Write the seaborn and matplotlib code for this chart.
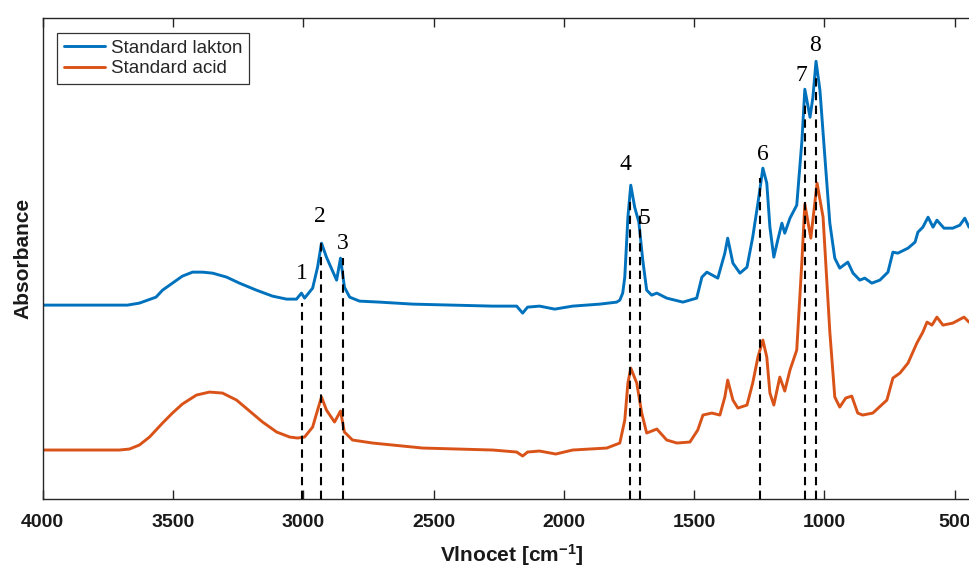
import numpy as np
import pandas as pd
import matplotlib
matplotlib.use("Agg")
import matplotlib.pyplot as plt
import seaborn as sns

# ---------------- data ----------------
lakton_wn = [4000, 3800, 3675, 3629, 3565, 3540, 3502, 3464, 3425, 3387, 3348, 3294,
             3245, 3180, 3118, 3064, 3026,
             3007, 2995, 2964, 2945, 2930, 2911, 2872, 2857, 2842, 2822, 2784, 2707,
             2580, 2427, 2273, 2181, 2158, 2139, 2093, 2035, 1966, 1862, 1797, 1785,
             1774, 1766, 1754, 1743, 1728, 1712, 1697, 1682, 1663, 1643, 1605, 1543,
             1490, 1470, 1451, 1409, 1382, 1371, 1351, 1324, 1297, 1275, 1255, 1236,
             1221, 1209, 1194, 1179, 1163, 1152, 1132, 1106, 1086, 1075, 1055, 1044,
             1032, 1017, 998, 979, 960, 941, 910, 890, 864, 845, 818, 787,
             756, 737, 718, 679, 652, 641, 622, 602, 583, 568, 541, 507,
             480, 461, 445, 400]
lakton_abs = [1.94, 1.94, 1.94, 1.96, 2.02, 2.09, 2.16, 2.23, 2.27, 2.27, 2.26, 2.22,
              2.16, 2.09, 2.03, 2.00, 2.00,
              2.06, 2.01, 2.11, 2.32, 2.56, 2.42, 2.19, 2.41, 2.12, 2.02, 1.98, 1.97,
              1.95, 1.94, 1.93, 1.93, 1.86, 1.92, 1.93, 1.90, 1.93, 1.95, 1.97, 1.99,
              2.06, 2.22, 2.82, 3.14, 2.92, 2.77, 2.39, 2.09, 2.04, 2.06, 2.01, 1.97,
              2.01, 2.22, 2.27, 2.21, 2.46, 2.61, 2.36, 2.26, 2.32, 2.62, 2.96, 3.31,
              3.16, 2.72, 2.42, 2.59, 2.76, 2.66, 2.81, 2.94, 3.59, 4.10, 3.82, 4.02,
              4.38, 4.09, 3.42, 2.76, 2.41, 2.31, 2.37, 2.26, 2.19, 2.21, 2.16, 2.19,
              2.27, 2.47, 2.46, 2.51, 2.57, 2.67, 2.72, 2.82, 2.72, 2.79, 2.71, 2.71,
              2.74, 2.81, 2.72, 2.73]

acid_wn = [4000, 3706, 3667, 3629, 3590, 3540, 3502, 3464, 3410, 3360, 3310, 3256,
           3206, 3156, 3102, 3052, 3022, 2995,
           2964, 2945, 2930, 2911, 2880, 2857, 2842, 2811, 2734, 2542, 2273, 2181,
           2158, 2139, 2093, 2031, 1966, 1835, 1785, 1766, 1754, 1743, 1720, 1701,
           1682, 1643, 1605, 1566, 1516, 1486, 1466, 1432, 1401, 1382, 1371, 1351,
           1332, 1297, 1275, 1255, 1236, 1221, 1209, 1194, 1171, 1152, 1132, 1106,
           1086, 1075, 1052, 1028, 1005, 979, 960, 941, 918, 895, 872, 853,
           814, 760, 737, 710, 679, 645, 622, 606, 587, 568, 545, 507,
           464, 445, 400]
acid_abs = [0.49, 0.49, 0.50, 0.54, 0.62, 0.76, 0.86, 0.95, 1.04, 1.07, 1.06, 0.99,
            0.88, 0.77, 0.67, 0.62, 0.61, 0.62,
            0.72, 0.89, 1.02, 0.89, 0.77, 0.88, 0.67, 0.59, 0.56, 0.51, 0.49, 0.47,
            0.43, 0.47, 0.48, 0.45, 0.49, 0.51, 0.56, 0.79, 1.16, 1.31, 1.16, 0.86,
            0.66, 0.70, 0.59, 0.56, 0.57, 0.69, 0.84, 0.86, 0.84, 1.02, 1.19, 0.99,
            0.91, 0.94, 1.16, 1.42, 1.59, 1.42, 1.06, 0.94, 1.22, 1.08, 1.29, 1.49,
            2.39, 2.95, 2.61, 3.16, 2.82, 1.67, 1.02, 0.92, 1.01, 1.03, 0.86, 0.84,
            0.86, 0.99, 1.21, 1.26, 1.36, 1.56, 1.67, 1.77, 1.74, 1.82, 1.74, 1.76,
            1.82, 1.77, 1.77]

series_names = ["Standard lakton", "Standard acid"]
series_colors = ["#0072BD", "#D95319"]

peak_labels = ["1", "2", "3", "4", "5", "6", "7", "8"]
peak_wn = [3003, 2931, 2846, 1747, 1708, 1248, 1075, 1032]
peak_top = [1.96, 2.56, 2.41, 3.01, 2.87, 3.21, 3.96, 4.26]
label_wn = [3005, 2938, 2849, 1762, 1692, 1236, 1087, 1037]
label_abs = [2.26, 2.83, 2.56, 3.35, 2.81, 3.45, 4.24, 4.54]

x_ticks = [4000, 3500, 3000, 2500, 2000, 1500, 1000, 500]

# ---------------- figure ----------------
sns.set_style("white")
plt.rcParams["font.family"] = ["Liberation Sans", "DejaVu Sans"]
plt.rcParams["mathtext.fontset"] = "custom"
plt.rcParams["mathtext.rm"] = "Liberation Sans:bold"
plt.rcParams["mathtext.default"] = "rm"

fig = plt.figure(figsize=(9.69, 5.68), dpi=100)
W, H = 969, 568
left_px, right_px, top_px, bot_px = 42.7, 980.7, 18.3, 499
ax = fig.add_axes([left_px / W, 1 - bot_px / H, (right_px - left_px) / W,
                   (bot_px - top_px) / H])

df = pd.concat([
    pd.DataFrame({"wn": lakton_wn, "abs": lakton_abs, "sample": series_names[0]}),
    pd.DataFrame({"wn": acid_wn, "abs": acid_abs, "sample": series_names[1]}),
])
sns.lineplot(data=df, x="wn", y="abs", hue="sample", hue_order=series_names,
             palette=series_colors, linewidth=2.1, ax=ax, legend=True,
             estimator=None)

ax.vlines(peak_wn, 0, peak_top, colors="black", linewidth=1.5,
          linestyles=(0, (4, 2.6)), zorder=5)
for lab, xw, yv in zip(peak_labels, label_wn, label_abs):
    ax.text(xw, yv, lab, ha="center", va="center", fontsize=17,
            family=["Liberation Serif", "DejaVu Serif"], color="black", zorder=6)

ax.set_xlim(4000, 400)
ax.set_ylim(0, 4.81)
ax.set_xticks(x_ticks)
ax.set_xticklabels([str(t) for t in x_ticks], fontsize=14, fontweight="bold",
                   color="#1a1a1a")
ax.set_yticks([])
ax.tick_params(axis="x", direction="in", length=6.5, width=1.0, top=True,
               bottom=True, pad=11, color="#262626")
for s in ["left", "top", "bottom"]:
    ax.spines[s].set_visible(True)
    ax.spines[s].set_color("#262626")
    ax.spines[s].set_linewidth(1.0)
ax.spines["right"].set_visible(False)

ax.set_xlabel("")
ax.set_ylabel("Absorbance", fontsize=15, fontweight="bold", color="#1a1a1a",
              labelpad=7)
fig.text(512 / W, (H - 562) / H, r"Vlnocet [cm$^{-1}$]", ha="center",
         va="baseline", fontsize=15, fontweight="bold", color="#1a1a1a")

handles, labels = ax.get_legend_handles_labels()
leg = ax.legend(handles, labels, loc="upper left",
                bbox_to_anchor=(57 / W, 1 - 33 / H), bbox_transform=fig.transFigure,
                borderaxespad=0, fontsize=13.5, frameon=True, fancybox=False,
                handlelength=2.2, handletextpad=0.35, labelspacing=0.18,
                borderpad=0.35)
leg.get_frame().set_edgecolor("#333333")
leg.get_frame().set_linewidth(0.9)
leg.get_frame().set_alpha(1)
for line in leg.get_lines():
    line.set_linewidth(2.1)

fig.savefig("out.png", dpi=100)
